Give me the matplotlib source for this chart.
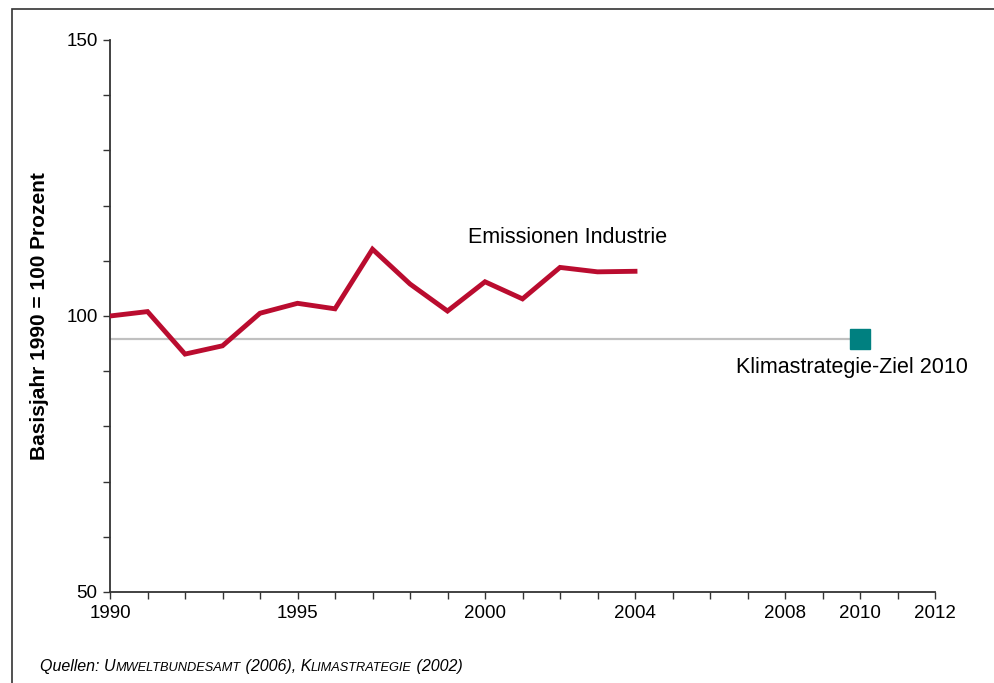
import matplotlib
matplotlib.use("Agg")
import matplotlib.pyplot as plt
from matplotlib.patches import Rectangle

plt.rcParams['font.family'] = ['Liberation Sans', 'DejaVu Sans']

# emissions index, base year 1990 = 100
years = list(range(1990, 2005))
emissions = [100.0, 100.8, 93.1, 94.6, 100.5, 102.3, 101.3, 112.1,
             105.8, 100.9, 106.2, 103.1, 108.8, 108.0, 108.1]

target_year = 2010
target_value = 95.8
target_span = [1990, 2010]

xtick_labels = [1990, 1995, 2000, 2004, 2008, 2010, 2012]
ytick_labels = [50, 100, 150]

fig = plt.figure(figsize=(9.94, 6.83), dpi=100)
ax = fig.add_axes([110 / 994, 1 - 592 / 683, 825 / 994, 552 / 683])

# outer frame
fig.patches.append(Rectangle((12 / 994, -0.1), 1.2, 1 - 9 / 683 + 0.1,
                             transform=fig.transFigure, fill=False,
                             edgecolor="#333333", linewidth=1.2))

ax.plot(target_span, [target_value] * 2, color="#C0C0C0", lw=1.6, zorder=2)
ax.plot(years, emissions, color="#BA0C2F", lw=3.5, solid_joinstyle="miter", zorder=3)
ax.plot([target_year], [target_value], marker="s", ms=14, color="#008080",
        linestyle="none", zorder=4, clip_on=False)

ax.set_xlim(1990, 2012)
ax.set_ylim(50, 150)
ax.set_xticks(xtick_labels)
ax.set_xticks(range(1990, 2013), minor=True)
ax.set_yticks(ytick_labels)
ax.set_yticks(range(50, 151, 10), minor=True)
ax.tick_params(axis="both", which="both", direction="out", length=5,
               width=1, color="#333333", labelsize=13.5, pad=4)

for side in ("top", "right"):
    ax.spines[side].set_visible(False)
for side in ("left", "bottom"):
    ax.spines[side].set_color("#333333")
    ax.spines[side].set_linewidth(1.3)

ax.set_ylabel("Basisjahr 1990 = 100 Prozent", fontsize=15, fontweight="bold",
              labelpad=12)

ax.text(2002.2, 114.2, "Emissionen Industrie", fontsize=15.5, ha="center", va="center")
ax.text(2006.7, 90.6, "Klimastrategie-Ziel 2010", fontsize=15.5, ha="left",
        va="center", clip_on=False)

# source note, small caps imitated with a smaller size
parts = [("Quellen: U", 11.5), ("MWELTBUNDESAMT", 9.2), (" (2006), K", 11.5),
         ("LIMASTRATEGIE", 9.2), (" (2002)", 11.5)]
base_y = 1 - 671 / 683
prev = fig.text(40 / 994, base_y, parts[0][0], fontsize=parts[0][1],
                style="italic", ha="left", va="baseline")
for txt, size in parts[1:]:
    # each piece starts where the previous one ends, on the same baseline
    prev = ax.annotate(txt, xy=(1, base_y), xycoords=(prev, fig.transFigure),
                       fontsize=size, style="italic", ha="left", va="baseline",
                       annotation_clip=False)

fig.savefig("out.png", dpi=100)
